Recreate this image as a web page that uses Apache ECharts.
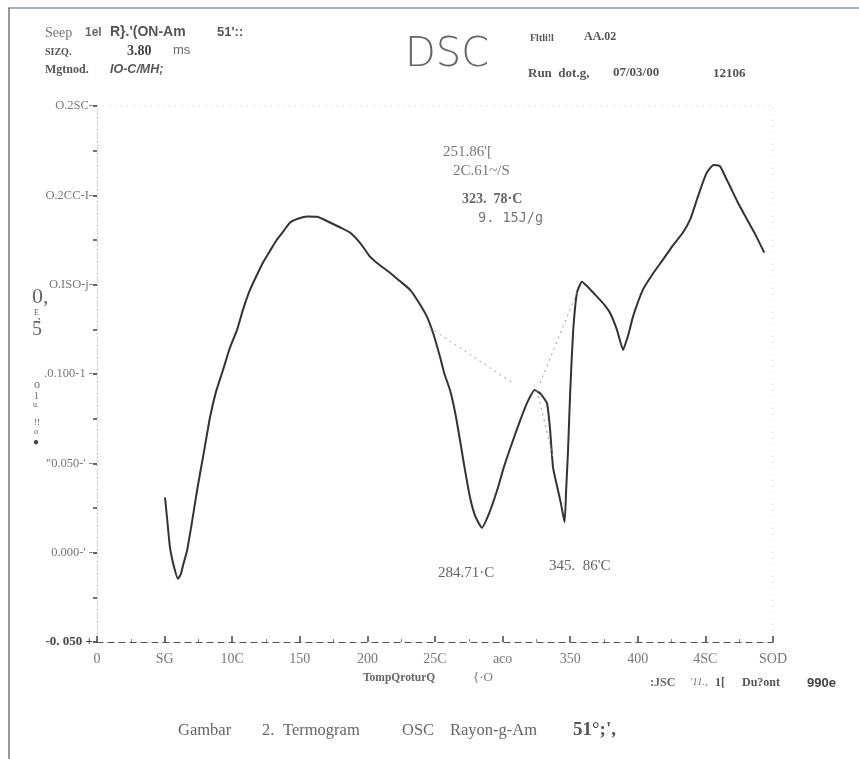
<!DOCTYPE html>
<html><head><meta charset="utf-8">
<script src="https://cdn.jsdelivr.net/npm/echarts@6/dist/echarts.min.js"></script>
<style>html,body{margin:0;padding:0;background:#fff}#c{width:859px;height:759px}</style>
</head><body><div id="c"></div>
<script>
// Temperature (°C) and heat-flow (W/g)
const temps = [50.3,52,54.0,57,59.9,62,64,66.6,70,74.0,79,83.6,88,93.2,98,103.6,108,113.2,118,122.8,128,133.1,138,142.8,149,155.3,163,172.3,180,187.1,195,201.9,209,216.7,224,231.5,238,244.1,249,253.7,257,261.1,265,268.5,272,275.9,280,284.71,290,295.9,301,307.7,313,318.0,323.78,328,332.8,335,337.3,341.0,343,345.86,347,348.4,350,352.1,355.0,358.7,364,369.8,375,379.4,384.6,389.1,393,396.4,403.8,411,418.6,426,433.4,439,443.8,448,451.2,456,460.8,465,468.2,474,480.8,487,493.5];
const heatFlow = [0.0309,0.018,0.0028,-0.008,-0.0146,-0.012,-0.006,0.0011,0.016,0.0348,0.056,0.0758,0.090,0.1022,0.114,0.1247,0.136,0.1472,0.155,0.1624,0.169,0.1753,0.180,0.1848,0.187,0.1882,0.188,0.1848,0.182,0.1792,0.173,0.1657,0.161,0.1567,0.152,0.1472,0.140,0.1320,0.122,0.1096,0.100,0.0910,0.078,0.0629,0.047,0.0309,0.020,0.0140,0.022,0.0348,0.048,0.0629,0.074,0.0837,0.091,0.089,0.0837,0.070,0.0478,0.0348,0.028,0.0170,0.035,0.0573,0.090,0.1230,0.1455,0.1517,0.148,0.1433,0.139,0.1343,0.1247,0.1135,0.122,0.1320,0.1472,0.156,0.1640,0.172,0.1792,0.187,0.1978,0.207,0.2129,0.217,0.2163,0.210,0.2051,0.196,0.1865,0.178,0.1680];
// dotted construction (baseline) lines
const base1 = [[246,0.126],[307.7,0.0949]];
const base2 = [[327.7,0.095],[355,0.1455]];
const base3 = [[325.4,0.091],[337.3,0.0534]];
// tick labels as printed on the scan
const xTickValues = [0,50,100,150,200,250,300,350,400,450,500];
const xTickLabels = ['0','SG','10C','150','200','25C','aco','350','400','4SC','SOD'];
const yTickValues = [-0.05,0,0.05,0.1,0.15,0.2,0.25];
const yTickLabels = ['-0. 050 +','0.000-\' -','"0.050-\' -','.0.100-1 -','O.ISO-j-','O.2CC-I-','O.2SC-'];

const chart = echarts.init(document.getElementById('c'));
const serif = '"Liberation Serif","DejaVu Serif",serif';
const sans = '"Liberation Sans","DejaVu Sans",sans-serif';
const data = temps.map((t,i)=>[t,heatFlow[i]]);
function lbl(v, arr, vals){
  for(let i=0;i<vals.length;i++){ if(Math.abs(vals[i]-v)<1e-6) return arr[i]; }
  return '';
}
function txt(x,y,text,opt){
  return {type:'text',x:x,y:y,style:Object.assign({text:text,fill:'#666',font:'13px '+serif,verticalAlign:'middle'},opt||{})};
}
const dotted = {color:'#999',width:1,type:[2,4]};
chart.setOption({
  animation:false,
  backgroundColor:'#fff',
  grid:{left:97,right:86,top:106,bottom:117,show:true,borderColor:'#ccc',borderWidth:1,borderType:[1,5]},
  xAxis:{type:'value',min:0,max:500,interval:50,
    axisLine:{show:true,onZero:false,lineStyle:{color:'#555',width:1.2,type:[6,5]}},
    axisTick:{show:true,inside:true,length:6,lineStyle:{color:'#444',width:1.5}},
    minorTick:{show:true,splitNumber:2,length:3,lineStyle:{color:'#888'}},
    splitLine:{show:false},
    axisLabel:{margin:10,color:'#777',fontFamily:serif,fontSize:14,formatter:v=>lbl(v,xTickLabels,xTickValues)}
  },
  yAxis:{type:'value',min:-0.05,max:0.25,interval:0.05,
    axisLine:{show:true,onZero:false,lineStyle:{color:'#bbb',width:1,type:[1,3]}},
    axisTick:{show:true,inside:false,length:4,lineStyle:{color:'#333',width:1.5}},
    minorTick:{show:true,splitNumber:2,length:4,lineStyle:{color:'#444',width:1.5}},
    splitLine:{show:false},
    axisLabel:{margin:4,color:'#777',fontFamily:serif,fontSize:12.5,
      formatter:v=>{const s=lbl(v,yTickLabels,yTickValues); return Math.abs(v+0.05)<1e-6?'{b|'+s+'}':s;},
      rich:{b:{fontWeight:'bold',color:'#444',fontFamily:serif,fontSize:13}}}
  },
  series:[
    {type:'line',data:data,showSymbol:false,smooth:0.15,lineStyle:{color:'#333',width:2}},
    {type:'line',data:base1,showSymbol:false,lineStyle:dotted},
    {type:'line',data:base2,showSymbol:false,lineStyle:dotted},
    {type:'line',data:base3,showSymbol:false,lineStyle:dotted}
  ],
  graphic:[
    {type:'line',shape:{x1:8,y1:8,x2:859,y2:8},style:{stroke:'#8a93a8',lineWidth:1.5}},
    {type:'line',shape:{x1:9,y1:8,x2:9,y2:759},style:{stroke:'#777',lineWidth:1.5}},
    txt(45,33,'Seep',{font:'14px '+serif,fill:'#777'}),
    txt(85,33,'1el',{font:'bold 12px '+sans,fill:'#666'}),
    txt(110,32,'R}.\'(ON-Am',{font:'bold 14px '+sans,fill:'#555'}),
    txt(217,32,'51\'::',{font:'bold 13px '+sans,fill:'#555'}),
    txt(45,52,'SIZQ.',{font:'bold 10px '+serif,fill:'#555'}),
    txt(127,51,'3.80',{font:'bold 14px '+serif,fill:'#444'}),
    txt(173,50,'ms',{font:'13px '+sans,fill:'#666'}),
    txt(45,70,'Mgtnod.',{font:'bold 12px '+serif,fill:'#555'}),
    txt(110,70,'IO-C/MH;',{font:'italic bold 12.5px '+sans,fill:'#555'}),
    txt(405,56,'DSC',{font:'200 40px "DejaVu Sans",sans-serif',fill:'#666'}),
    txt(530,38,'Fltli!l',{font:'bold 10px '+serif,fill:'#555'}),
    txt(584,37,'AA.02',{font:'bold 12px '+serif,fill:'#555'}),
    txt(528,74,'Run  dot.g,',{font:'bold 13px '+serif,fill:'#555'}),
    txt(613,73,'07/03/00',{font:'bold 13px '+serif,fill:'#555'}),
    txt(713,74,'12106',{font:'bold 13px '+serif,fill:'#555'}),
    txt(32,297,'0,',{font:'22px '+serif,fill:'#666'}),
    txt(34,313,'E',{font:'8px '+serif,fill:'#666'}),
    txt(35,320,'.;',{font:'bold 10px '+serif,fill:'#666'}),
    txt(32,330,'5',{font:'20px '+serif,fill:'#666'}),
    txt(34,385,'o',{font:'12px '+serif,fill:'#666'}),
    txt(34,396,'1',{font:'10px '+serif,fill:'#666',rotation:Math.PI/2}),
    txt(33,405,'u.',{font:'8px '+serif,fill:'#666'}),
    txt(34,423,'!!',{font:'9px '+serif,fill:'#555',rotation:Math.PI/2}),
    txt(34,432,'o',{font:'9px '+serif,fill:'#666'}),
    txt(33,442,'●',{font:'10px '+serif,fill:'#444'}),
    txt(443,152,'251.86\'[',{font:'15px '+serif,fill:'#777'}),
    txt(453,171,'2C.61~/S',{font:'15px '+serif,fill:'#777'}),
    txt(462,199,'323.  78·C',{font:'bold 14px '+serif,fill:'#666'}),
    txt(478,218,'9. 15J/g',{font:'13.5px "DejaVu Sans Mono",monospace',fill:'#777'}),
    txt(438,573,'284.71·C',{font:'15px '+serif,fill:'#666'}),
    txt(549,566,'345.  86\'C',{font:'15px '+serif,fill:'#666'}),
    txt(363,678,'TompQroturQ',{font:'bold 11.5px '+serif,fill:'#666'}),
    txt(473,678,'{·O',{font:'13px '+serif,fill:'#777'}),
    txt(650,683,':JSC',{font:'bold 12px '+serif,fill:'#666'}),
    txt(690,682,'\'11.,',{font:'italic 11px '+serif,fill:'#777'}),
    txt(715,683,'1[',{font:'bold 12px '+serif,fill:'#555'}),
    txt(742,683,'Du?ont',{font:'bold 12px '+serif,fill:'#555'}),
    txt(807,683,'990e',{font:'bold 13px '+sans,fill:'#444'}),
    txt(178,731,'Gambar',{font:'16.5px '+serif,fill:'#666'}),
    txt(262,731,'2.',{font:'16.5px '+serif,fill:'#666'}),
    txt(283,731,'Termogram',{font:'16.5px '+serif,fill:'#666'}),
    txt(402,731,'OSC',{font:'16.5px '+serif,fill:'#666'}),
    txt(450,731,'Rayon-g-Am',{font:'16.5px '+serif,fill:'#666'}),
    txt(573,730,'51°;\',',{font:'bold 19px '+serif,fill:'#555'})
  ]
});
</script></body></html>
